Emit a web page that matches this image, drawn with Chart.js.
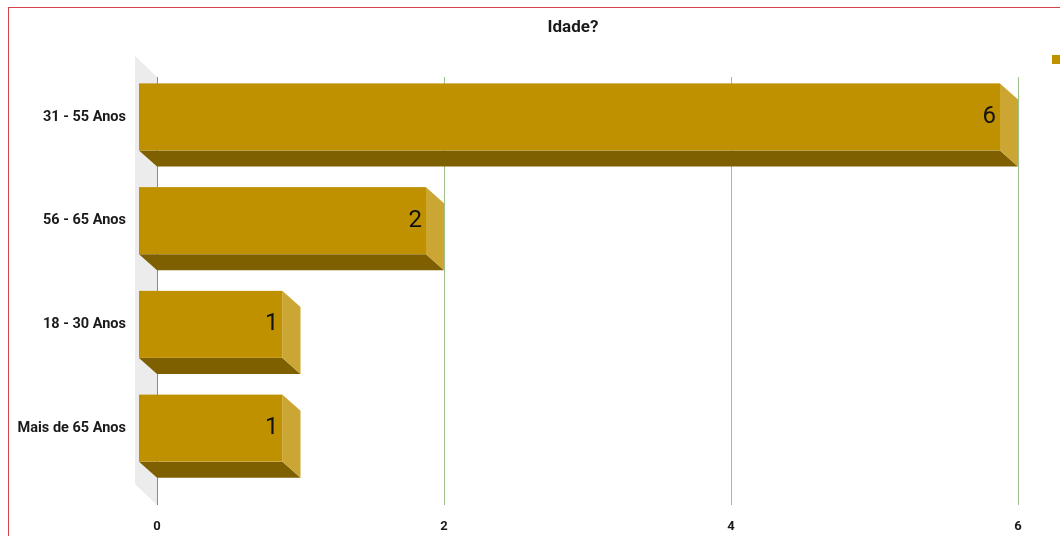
<!DOCTYPE html>
<html>
<head>
<meta charset="utf-8">
<script src="https://cdn.jsdelivr.net/npm/chart.js@4.4.1/dist/chart.umd.min.js"></script>
<style>
  html, body { margin: 0; padding: 0; background: #fff; overflow: hidden; }
  #wrap { position: relative; width: 1060px; height: 536px; }
  #frame { position: absolute; left: 8px; top: 7px; width: 1200px; height: 700px;
           border-left: 1px solid #d8434a; border-top: 1px solid #d8434a; pointer-events: none; }
</style>
</head>
<body>
<div id="wrap">
  <canvas id="chart" width="1060" height="536"></canvas>
  <div id="frame"></div>
</div>
<script>
// dados do gráfico
const chartTitle = "Idade?";
const categories = ["31 - 55 Anos", "56 - 65 Anos", "18 - 30 Anos", "Mais de 65 Anos"];
const values = [6, 2, 1, 1];
const xTicks = [0, 2, 4, 6];

const FRONT = "#bf9000";
const SIDE = "#cca633";
const BOTTOM = "#7f6000";
const DX = 18, DY = 16; // profundidade do efeito 3D

// parede cinza + linhas de grade
const backdrop = {
  id: "backdrop",
  beforeDatasetsDraw(chart) {
    const { ctx, chartArea, scales } = chart;
    const top = chartArea.top - 4, bottom = chartArea.bottom + 9;
    const left = chartArea.left;
    ctx.save();
    ctx.fillStyle = "#ececec";
    ctx.beginPath();
    ctx.moveTo(left, top);
    ctx.lineTo(left - 22, top - 21);
    ctx.lineTo(left - 22, bottom - 21);
    ctx.lineTo(left, bottom);
    ctx.closePath();
    ctx.fill();

    xTicks.forEach(t => {
      const px = Math.round(scales.x.getPixelForValue(t)) + 0.5;
      ctx.strokeStyle = t === 0 ? "#8a8a8a" : "#9fc28c";
      ctx.lineWidth = 1;
      ctx.beginPath();
      ctx.moveTo(px, top);
      ctx.lineTo(px, bottom);
      ctx.stroke();
    });

    // título
    ctx.fillStyle = "#1a1a1a";
    ctx.font = "bold 17px Roboto";
    ctx.textAlign = "center";
    ctx.textBaseline = "middle";
    ctx.fillText(chartTitle, 573, 28);
    ctx.restore();
  }
};

// barras 3D + rótulos
const bars3d = {
  id: "bars3d",
  afterDatasetsDraw(chart) {
    const { ctx } = chart;
    const meta = chart.getDatasetMeta(0);
    ctx.save();
    meta.data.forEach((bar, i) => {
      const p = bar.getProps(["x", "y", "base", "height"], true);
      const bx0 = p.base, bx1 = p.x;
      const by0 = p.y - p.height / 2, by1 = p.y + p.height / 2;
      const fx0 = bx0 - DX, fx1 = bx1 - DX, fy0 = by0 - DY, fy1 = by1 - DY;

      ctx.fillStyle = BOTTOM;
      ctx.beginPath();
      ctx.moveTo(fx0, fy1); ctx.lineTo(fx1, fy1); ctx.lineTo(bx1, by1); ctx.lineTo(bx0, by1);
      ctx.closePath(); ctx.fill();

      ctx.fillStyle = SIDE;
      ctx.beginPath();
      ctx.moveTo(fx1, fy0); ctx.lineTo(bx1, by0); ctx.lineTo(bx1, by1); ctx.lineTo(fx1, fy1);
      ctx.closePath(); ctx.fill();

      ctx.fillStyle = FRONT;
      ctx.fillRect(fx0, fy0, fx1 - fx0, fy1 - fy0);

      ctx.fillStyle = "#111";
      ctx.font = "24px Roboto";
      ctx.textAlign = "right";
      ctx.textBaseline = "middle";
      ctx.fillText(String(values[i]), fx1 - 4, (fy0 + fy1) / 2);
    });

    // legenda (cortada na borda direita)
    ctx.fillStyle = FRONT;
    ctx.fillRect(1052, 55, 9, 9);
    ctx.restore();
  }
};

new Chart(document.getElementById("chart"), {
  type: "bar",
  data: {
    labels: categories,
    datasets: [{
      label: "",
      data: values,
      backgroundColor: "rgba(0,0,0,0)",
      borderWidth: 0,
      barThickness: 67
    }]
  },
  options: {
    indexAxis: "y",
    responsive: false,
    animation: false,
    devicePixelRatio: 1,
    layout: { padding: { top: 81, left: 0, right: 42, bottom: 0 } },
    plugins: {
      legend: { display: false },
      tooltip: { enabled: false },
      title: { display: false }
    },
    scales: {
      x: {
        min: 0,
        max: 6,
        afterBuildTicks(scale) { scale.ticks = xTicks.map(v => ({ value: v })); },
        afterFit(scale) { scale.height = 40; },
        grid: { display: false },
        border: { display: false },
        ticks: {
          padding: 15,
          color: "#1a1a1a",
          font: { family: "Roboto", size: 13, weight: "bold" }
        }
      },
      y: {
        afterFit(scale) { scale.width = 157; },
        grid: { display: false },
        border: { display: false },
        ticks: {
          padding: 23,
          labelOffset: -16,
          color: "#1a1a1a",
          font: { family: "Roboto", size: 14.5, weight: "bold" }
        }
      }
    }
  },
  plugins: [backdrop, bars3d]
});
</script>
</body>
</html>
